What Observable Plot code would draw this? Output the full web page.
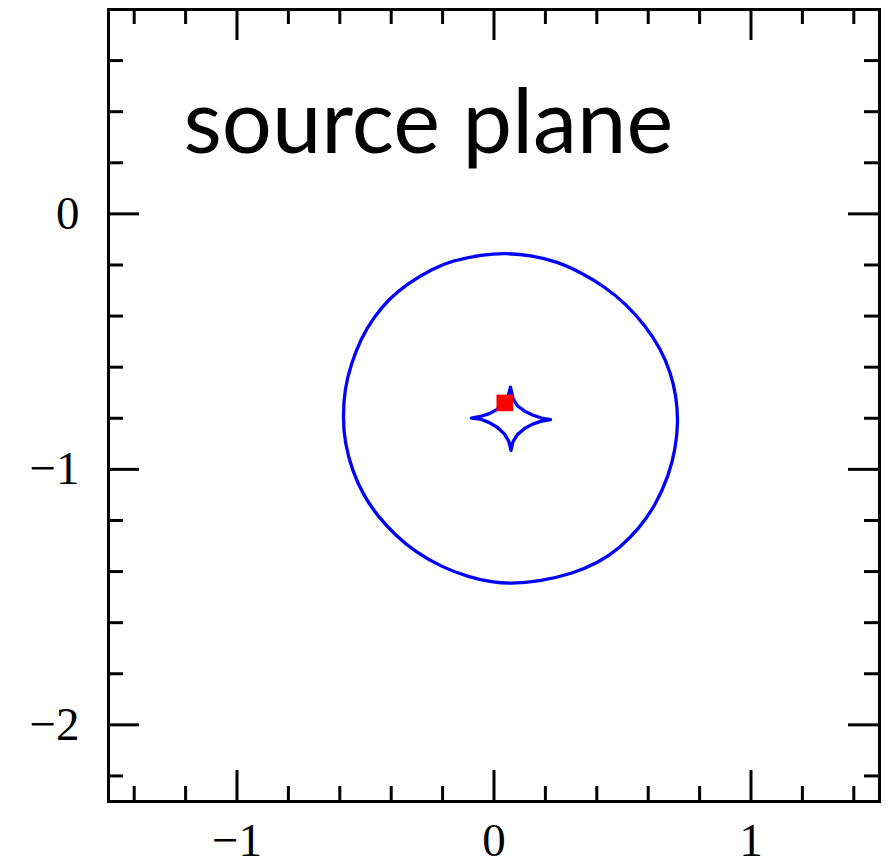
<!DOCTYPE html>
<html>
<head>
<meta charset="utf-8">
<script src="https://cdn.jsdelivr.net/npm/d3@7"></script>
<script src="https://cdn.jsdelivr.net/npm/@observablehq/plot@0.6"></script>
<style>
  html, body { margin: 0; padding: 0; background: #fff; }
  #chart svg { display: block; }
</style>
</head>
<body>
<div id="chart"></div>
<script>
// Caustic curve (outer, roughly circular) in the source plane
const causticX = [0.045, 0.149, 0.246, 0.337, 0.434, 0.512, 0.589, 0.648, 0.687, 0.709,
  0.717, 0.706, 0.680, 0.628, 0.563, 0.486, 0.408, 0.304, 0.174, 0.064,
  -0.007, -0.098, -0.202, -0.305, -0.383, -0.454, -0.507, -0.552, -0.581, -0.588,
  -0.581, -0.558, -0.519, -0.468, -0.409, -0.338, -0.240, -0.163, -0.046];
const causticY = [-0.153, -0.163, -0.187, -0.229, -0.287, -0.352, -0.437, -0.528, -0.620, -0.711,
  -0.816, -0.920, -1.024, -1.142, -1.233, -1.311, -1.364, -1.409, -1.439, -1.448,
  -1.442, -1.422, -1.383, -1.324, -1.259, -1.181, -1.103, -1.005, -0.894, -0.796,
  -0.685, -0.594, -0.489, -0.405, -0.333, -0.274, -0.215, -0.183, -0.160];

// Inner four-cusp caustic (astroid-like)
const cuspX = [0.064, 0.074, 0.091, 0.119, 0.150, 0.185, 0.220, 0.185, 0.150, 0.119, 0.091, 0.074,
  0.066, 0.058, 0.041, 0.014, -0.018, -0.053, -0.088, -0.053, -0.018, 0.014, 0.041, 0.056];
const cuspY = [-0.678, -0.723, -0.751, -0.772, -0.787, -0.799, -0.805, -0.811, -0.823, -0.840, -0.864, -0.891,
  -0.926, -0.891, -0.862, -0.836, -0.817, -0.803, -0.799, -0.793, -0.782, -0.764, -0.739, -0.711];

// Source position
const sourceX = [0.042];
const sourceY = [-0.740];

// Tick values
const xMajor = [-1, 0, 1];
const xMinor = [-1.4, -1.2, -0.8, -0.6, -0.4, -0.2, 0.2, 0.4, 0.6, 0.8, 1.2, 1.4];
const yMajor = [0, -1, -2];
const yMinor = [0.6, 0.4, 0.2, -0.2, -0.4, -0.6, -0.8, -1.2, -1.4, -1.6, -1.8, -2.2];

const titleText = ["source plane"];

const caustic = causticX.map((x, i) => ({x, y: causticY[i]}));
const cusp = cuspX.map((x, i) => ({x, y: cuspY[i]}));
const source = sourceX.map((x, i) => ({x, y: sourceY[i]}));

const W = 891, H = 866;
const mL = 108, mR = 12, mT = 9, mB = 65;
const innerH = H - mT - mB;
const innerW = W - mL - mR;
const minorLen = 15, majorLen = 31;
const tickW = 3;
const fmt = d => d < 0 ? "\u2212" + Math.abs(d) : String(d);
const labelFont = "Liberation Serif, DejaVu Serif, serif";

const chart = Plot.plot({
  width: W,
  height: H,
  marginLeft: mL,
  marginRight: mR,
  marginTop: mT,
  marginBottom: mB,
  x: {domain: [-1.5, 1.5]},
  y: {domain: [-2.3, 0.8]},
  marks: [
    // inward ticks on all four sides
    Plot.ruleX(xMinor, {x: d => d, insetTop: innerH - minorLen, stroke: "black", strokeWidth: tickW}),
    Plot.ruleX(xMinor, {x: d => d, insetBottom: innerH - minorLen, stroke: "black", strokeWidth: tickW}),
    Plot.ruleX(xMajor, {x: d => d, insetTop: innerH - majorLen, stroke: "black", strokeWidth: tickW}),
    Plot.ruleX(xMajor, {x: d => d, insetBottom: innerH - majorLen, stroke: "black", strokeWidth: tickW}),
    Plot.ruleY(yMinor, {y: d => d, insetRight: innerW - minorLen, stroke: "black", strokeWidth: tickW}),
    Plot.ruleY(yMinor, {y: d => d, insetLeft: innerW - minorLen, stroke: "black", strokeWidth: tickW}),
    Plot.ruleY(yMajor, {y: d => d, insetRight: innerW - majorLen, stroke: "black", strokeWidth: tickW}),
    Plot.ruleY(yMajor, {y: d => d, insetLeft: innerW - majorLen, stroke: "black", strokeWidth: tickW}),
    Plot.frame({stroke: "black", strokeWidth: 3}),
    Plot.axisX(xMajor, {anchor: "bottom", tickSize: 0, tickPadding: 21, tickFormat: fmt,
      fontSize: 47, fontFamily: labelFont, fill: "black", label: null}),
    Plot.axisY(yMajor, {anchor: "left", tickSize: 0, tickPadding: 29, tickFormat: fmt,
      fontSize: 47, fontFamily: labelFont, fill: "black", label: null}),
    Plot.line(caustic, {x: "x", y: "y", curve: "basis-closed", stroke: "#0000ff", strokeWidth: 3.3}),
    Plot.line(cusp, {x: "x", y: "y", curve: "linear-closed", stroke: "#0000ff", strokeWidth: 3.3}),
    Plot.dot(source, {x: "x", y: "y", symbol: "square", r: 9.4, fill: "#ff0000", stroke: "none"}),
    Plot.text(titleText, {frameAnchor: "top-left", dx: 75, dy: 143, text: d => d,
      textAnchor: "start", lineAnchor: "bottom", fontSize: 88.5,
      fontFamily: "Lato, 'Open Sans', sans-serif", fill: "black"})
  ]
});
document.getElementById("chart").appendChild(chart);
</script>
</body>
</html>
